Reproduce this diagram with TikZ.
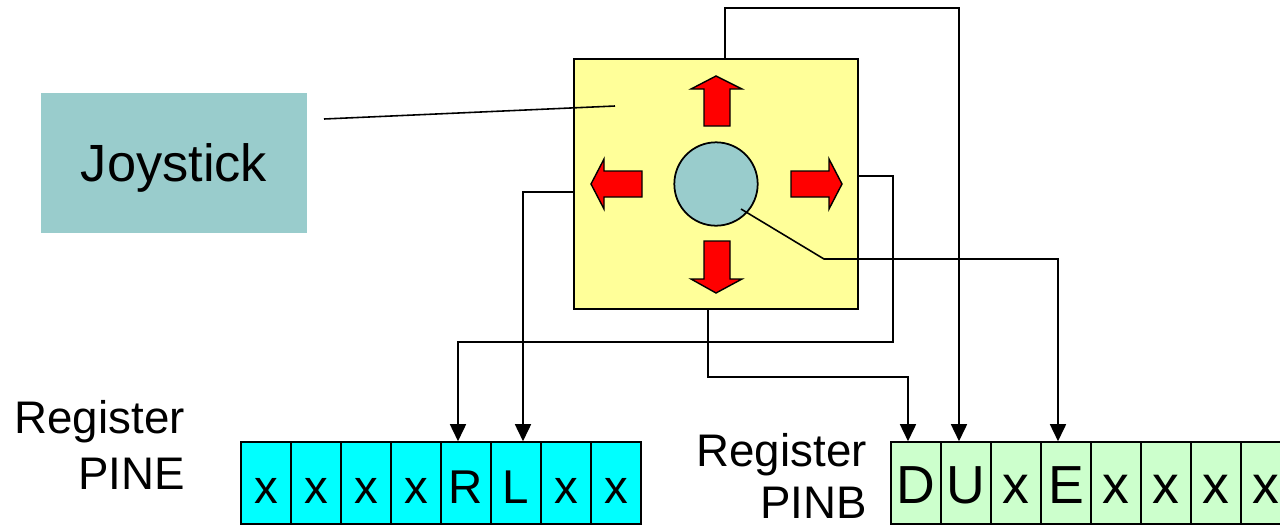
\documentclass[tikz,border=0pt]{standalone}
\usepackage{fontspec}
\setmainfont{Liberation Sans}
\usetikzlibrary{arrows.meta,calc}
\definecolor{boxyellow}{HTML}{FFFF99}
\definecolor{knobblue}{HTML}{99CCCC}
\definecolor{pinecyan}{HTML}{00FFFF}
\definecolor{pinbgreen}{HTML}{CCFFCC}
\begin{document}
\begin{tikzpicture}[x=0.02cm,y=-0.02cm,
  conn/.style={line width=0.9pt},
  tip/.style={conn,-{Triangle[width=0.32cm,length=0.34cm]}},
  redarrow/.style={fill=red,draw=black,line width=0.8pt,line join=miter},
  cellbase/.style={draw=black,line width=0.9pt,minimum width=1cm,minimum height=1.64cm,inner sep=0pt,text height=0.8cm,text depth=0pt},
  pinecell/.style={cellbase,fill=pinecyan,font=\fontsize{27pt}{30pt}\selectfont},
  pinbcell/.style={cellbase,fill=pinbgreen,font=\fontsize{30.5pt}{34pt}\selectfont},
  reglabel/.style={anchor=base east,inner sep=0pt,font=\fontsize{26pt}{30pt}\selectfont}]
\useasboundingbox (0,0) rectangle (1280,525);

% Joystick label box
\node[fill=knobblue,minimum width=5.32cm,minimum height=2.82cm,inner sep=0pt,text depth=0pt,
      font=\fontsize{29.8pt}{34pt}\selectfont] (joy) at (174,163) {Joystick};

% Yellow joystick box
\node[draw=black,line width=1.1pt,fill=boxyellow,minimum width=5.68cm,minimum height=5cm,inner sep=0pt] (box) at (716,184) {};
\node[draw=black,line width=1pt,fill=knobblue,circle,minimum size=1.668cm,inner sep=0pt] (knob) at (716,184) {};

% red direction arrows
\draw[redarrow] (704,126) -- (704,89) -- (691,89) -- (716,76) -- (742,89) -- (730,89) -- (730,126) -- cycle;
\draw[redarrow] (704,241) -- (704,279) -- (691,279) -- (716,293) -- (742,279) -- (730,279) -- (730,241) -- cycle;
\draw[redarrow] (642,171) -- (604,171) -- (604,159) -- (591,184) -- (604,209) -- (604,197) -- (642,197) -- cycle;
\draw[redarrow] (791,171) -- (829,171) -- (829,159) -- (842,184) -- (829,209) -- (829,197) -- (791,197) -- cycle;

% joystick pointer line
\coordinate (jl) at (324,119);
\coordinate (jr) at (615,106);
\draw[conn] (jl) -- (jr);

% registers
\foreach \t [count=\i from 0] in {x,x,x,x,R,L,x,x}
  \node[pinecell] (e\i) at (266+50*\i,483) {\t};
\foreach \t [count=\i from 0] in {D,U,x,E,x,x,x,x}
  \node[pinbcell] (b\i) at (916+50*\i,483) {\t};

\node[reglabel] (rl1) at (185,433) {Register};
\node[reglabel] (rl2) at (185,489) {PINE};
\node[reglabel] (rl3) at (867,466) {Register};
\node[reglabel] (rl4) at (867,518) {PINB};

% connectors
\draw[tip] ($(box.east)+(0,-8)$) -- ++(34,0) -- ++(0,166) -| ($(e4.north)+(-8,0)$);
\draw[tip] ($(box.west)+(0,8)$) -| ($(e5.north)+(7,0)$);
\draw[tip] ($(box.south)+(-8,0)$) -- ++(0,67) -| ($(b0.north)+(-8,0)$);
\draw[tip] ($(box.north)+(9,0)$) -- ++(0,-50) -| ($(b1.north)+(-7,0)$);
\draw[tip] ($(knob.center)+(25,25)$) -- ++(83,50) -| ($(b3.north)+(-8,0)$);
\end{tikzpicture}
\end{document}
